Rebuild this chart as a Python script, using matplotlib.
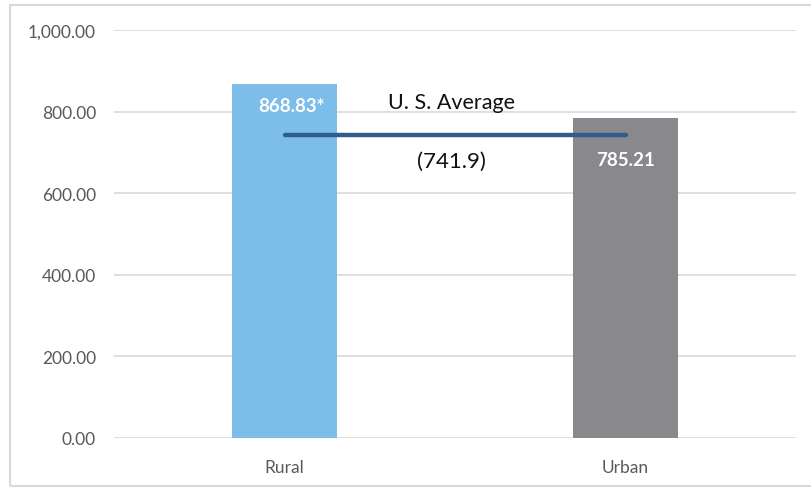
import matplotlib
matplotlib.use("Agg")
import matplotlib.pyplot as plt
from matplotlib.patches import Rectangle
from matplotlib.ticker import FuncFormatter

categories = ["Rural", "Urban"]
values = [868.83, 785.21]
value_labels = ["868.83*", "785.21"]
bar_colors = ["#7DBDE9", "#89888C"]
us_average = 741.9
yticks = [0, 200, 400, 600, 800, 1000]

plt.rcParams["font.family"] = ["Lato", "DejaVu Sans"]

W, H = 811, 489
fig = plt.figure(figsize=(W / 100, H / 100), dpi=100)
fig.patch.set_facecolor("white")

# chart frame
fig.add_artist(Rectangle((10 / W, 1 - 487 / H), 820 / W, 481 / H,
                         transform=fig.transFigure, fill=False,
                         edgecolor="#D9D9D9", linewidth=1.5))

ax = fig.add_axes([114 / W, 1 - 439 / H, 682 / W, 408 / H])
x = list(range(len(categories)))
ax.bar(x, values, width=0.31, color=bar_colors, zorder=2)
ax.set_xlim(-0.5, 1.5)
ax.set_ylim(0, 1000)
ax.set_yticks(yticks)
ax.yaxis.set_major_formatter(FuncFormatter(lambda v, p: f"{v:,.2f}"))
ax.set_xticks(x)
ax.set_xticklabels(categories)
ax.grid(axis="y", color="#D9D9D9", linewidth=1.2, zorder=0)
for s in ax.spines.values():
    s.set_visible(False)
ax.tick_params(axis="both", length=0, colors="#595959", labelsize=12.5)
ax.tick_params(axis="y", pad=13)
ax.tick_params(axis="x", pad=15)

# U.S. average line across the bars
ax.plot([x[0], x[1]], [us_average, us_average], color="#2F5E8E",
        linewidth=3.2, solid_capstyle="round", zorder=3)
ax.text(0.49, us_average + 82, "U. S. Average", ha="center", va="center",
        fontsize=15.5, color="#111111", zorder=4)
ax.text(0.49, us_average - 63, f"({us_average})", ha="center", va="center",
        fontsize=16, color="#111111", zorder=4)

# value labels inside the bars
ax.text(x[0] + 0.02, values[0] - 32, value_labels[0], ha="center", va="top",
        fontsize=13.5, fontweight="bold", color="white", zorder=4)
ax.text(x[1], values[1] - 82, value_labels[1], ha="center", va="top",
        fontsize=13.5, fontweight="bold", color="white", zorder=4)

fig.savefig("out.png", dpi=100)
